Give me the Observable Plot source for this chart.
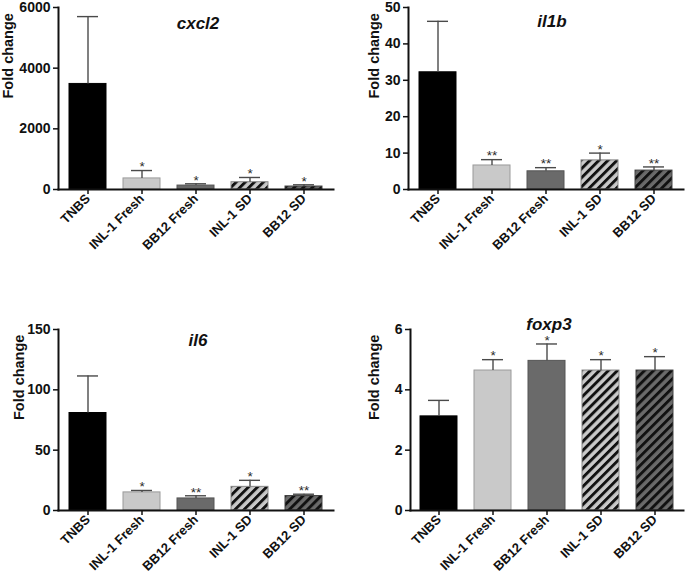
<!DOCTYPE html>
<html><head><meta charset="utf-8">
<script src="https://cdn.jsdelivr.net/npm/d3@7"></script>
<script src="https://cdn.jsdelivr.net/npm/@observablehq/plot@0.6"></script>
<style>
body{margin:0;background:#fff;}
#wrap{position:relative;width:685px;height:581px;overflow:hidden;background:#fff;}
.panel{position:absolute;}
</style></head>
<body>
<svg width="0" height="0" style="position:absolute">
<defs>
<pattern id="stripeLight" patternUnits="userSpaceOnUse" width="6.4" height="6.4" patternTransform="rotate(45)">
<rect width="6.4" height="6.4" fill="#c9c9c9"/><rect width="2.9" height="6.4" fill="#111"/>
</pattern>
<pattern id="stripeDark" patternUnits="userSpaceOnUse" width="6.4" height="6.4" patternTransform="rotate(45)">
<rect width="6.4" height="6.4" fill="#6a6a6a"/><rect width="2.9" height="6.4" fill="#111"/>
</pattern>
</defs></svg>
<div id="wrap"></div>
<script>
const categories = ["TNBS", "INL-1 Fresh", "BB12 Fresh", "INL-1 SD", "BB12 SD"];

const cxcl2Mean = [3480, 365, 130, 240, 98];
const cxcl2Err  = [2220, 260, 58, 156, 57];
const cxcl2Sig  = ["", "*", "*", "*", "*"];
const cxcl2Ticks = [0, 2000, 4000, 6000];

const il1bMean = [32.2, 6.6, 5.0, 8.0, 5.2];
const il1bErr  = [14.0, 1.6, 1.0, 2.0, 1.0];
const il1bSig  = ["", "**", "**", "*", "**"];
const il1bTicks = [0, 10, 20, 30, 40, 50];

const il6Mean = [80.8, 15.0, 10.0, 19.6, 12.0];
const il6Err  = [30.7, 1.6, 2.2, 5.4, 1.5];
const il6Sig  = ["", "*", "**", "*", "**"];
const il6Ticks = [0, 50, 100, 150];

const foxp3Mean = [3.12, 4.64, 4.96, 4.64, 4.64];
const foxp3Err  = [0.53, 0.36, 0.56, 0.36, 0.46];
const foxp3Sig  = ["", "*", "*", "*", "*"];
const foxp3Ticks = [0, 2, 4, 6];

const fillOf = {"TNBS": "#000", "INL-1 Fresh": "#c9c9c9", "BB12 Fresh": "#6a6a6a", "INL-1 SD": "url(#stripeLight)", "BB12 SD": "url(#stripeDark)"};
const strokeOf = {"TNBS": "#000", "INL-1 Fresh": "#9a9a9a", "BB12 Fresh": "#555", "INL-1 SD": "#888", "BB12 SD": "#444"};

const panels = [
  {title: "cxcl2", mean: cxcl2Mean, err: cxcl2Err, sig: cxcl2Sig, ticks: cxcl2Ticks, left: 0, top: 0, width: 342, height: 290, mt: 7, mb: 101, mr: 9, labDx: -50, tDx: 2, tDy: 9},
  {title: "il1b", mean: il1bMean, err: il1bErr, sig: il1bSig, ticks: il1bTicks, left: 350, top: 0, width: 335, height: 290, mt: 7, mb: 101, mr: 2, labDx: -34, tDx: 6, tDy: 7},
  {title: "il6", mean: il6Mean, err: il6Err, sig: il6Sig, ticks: il6Ticks, left: 0, top: 290, width: 342, height: 291, mt: 39, mb: 71, mr: 9, labDx: -39, tDx: 2, tDy: 4},
  {title: "foxp3", mean: foxp3Mean, err: foxp3Err, sig: foxp3Sig, ticks: foxp3Ticks, left: 352, top: 290, width: 333, height: 291, mt: 39, mb: 71, mr: 2, labDx: -36, tDx: 2, tDy: -12}
];

const wrap = document.getElementById("wrap");
for (const p of panels) {
  const data = categories.map((c, i) => ({cat: c, mean: p.mean[i], top: p.mean[i] + p.err[i], sig: p.sig[i], fill: fillOf[c], stroke: strokeOf[c]}));
  const ymax = p.ticks[p.ticks.length - 1];
  const chart = Plot.plot({
    width: p.width, height: p.height,
    marginLeft: 58, marginRight: p.mr, marginTop: p.mt, marginBottom: p.mb,
    style: {fontFamily: "'Liberation Sans', Arial, sans-serif", fontWeight: "bold", background: "#fff", color: "#111"},
    x: {domain: categories, paddingInner: 0.32, paddingOuter: 0.18, label: null},
    y: {domain: [0, ymax], label: null},
    color: {type: "identity"},
    marks: [
      Plot.barY(data, {x: "cat", y: "mean", fill: "fill", stroke: "stroke", strokeWidth: 1}),
      Plot.ruleX(data, {x: "cat", y1: "mean", y2: "top", stroke: "#4a4a4a", strokeWidth: 1.4}),
      Plot.tickY(data, {x: "cat", y: "top", stroke: "#4a4a4a", strokeWidth: 1.4, insetLeft: 8, insetRight: 8}),
      Plot.text(data, {x: "cat", y: "top", text: "sig", dy: -3.5, fontSize: 13.5, fill: "#2a2a2a", fontWeight: "normal"}),
      Plot.axisY({ticks: p.ticks, tickFormat: d => String(d), tickSize: 5, tickPadding: 3, fontSize: 14, strokeWidth: 1.5, label: null}),
      Plot.axisX({tickRotate: -45, tickSize: 5, tickPadding: 2, fontSize: 13, strokeWidth: 1.5, label: null}),
      Plot.frame({anchor: "left", stroke: "#111", strokeWidth: 2}),
      Plot.frame({anchor: "bottom", stroke: "#111", strokeWidth: 2}),
      Plot.text(["Fold change"], {frameAnchor: "left", dx: p.labDx, rotate: -90, fontSize: 14.5, fill: "#111"}),
      Plot.text([p.title], {frameAnchor: "top", dx: p.tDx, dy: p.tDy, fontSize: 17, fontStyle: "italic", fill: "#111"})
    ]
  });
  chart.classList.add("panel");
  chart.style.left = p.left + "px";
  chart.style.top = p.top + "px";
  wrap.appendChild(chart);
}
</script>
</body></html>
